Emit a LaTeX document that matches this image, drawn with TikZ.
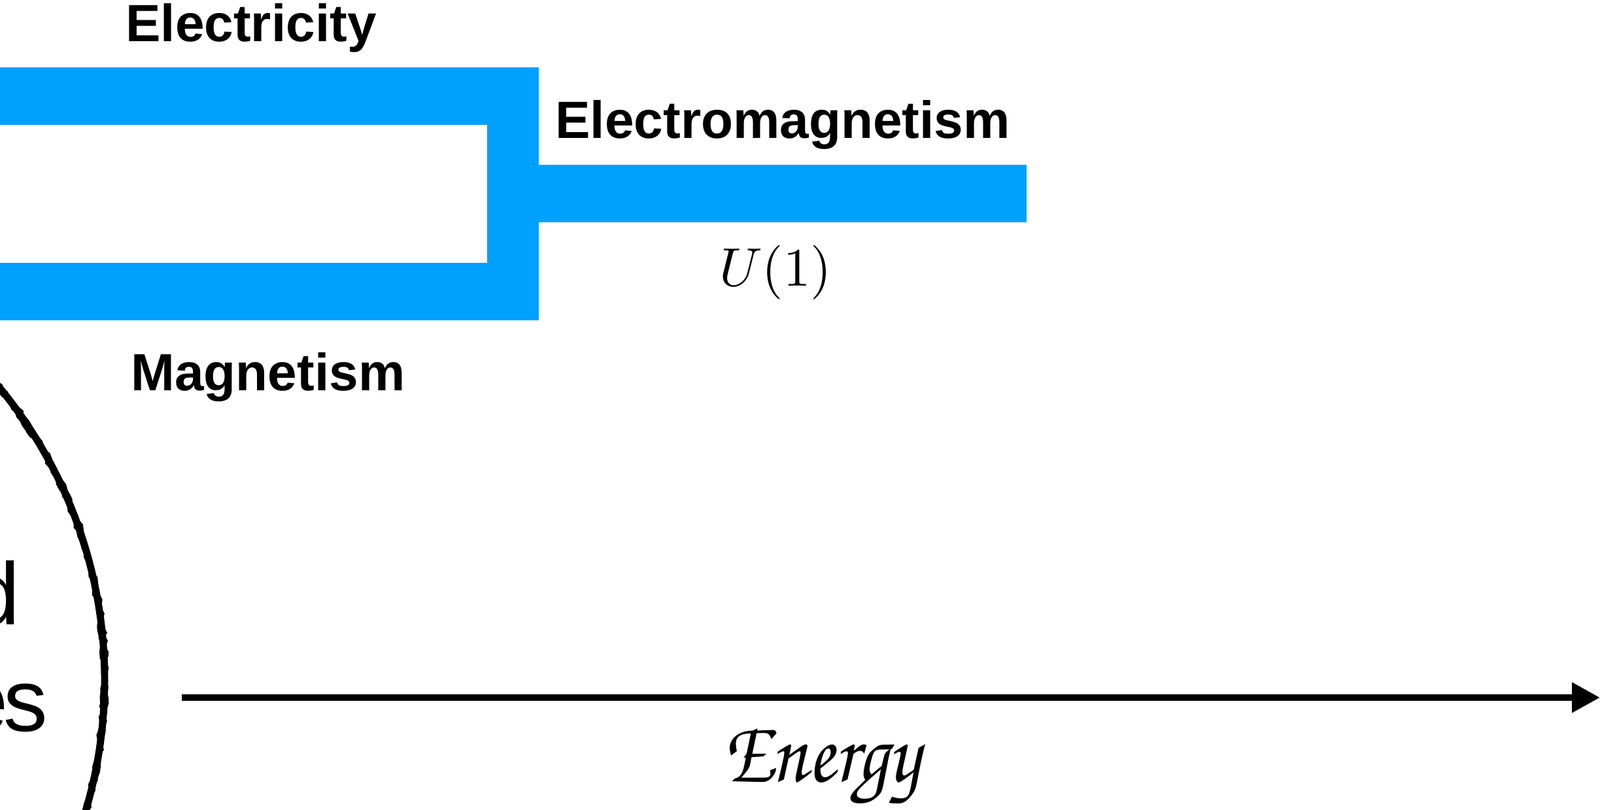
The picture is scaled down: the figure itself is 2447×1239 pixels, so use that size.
\documentclass[tikz,border=0pt]{standalone}
\usepackage{fontspec}
\usepackage{tikz}
\usetikzlibrary{arrows.meta, decorations.pathmorphing}
\setsansfont{Liberation Sans}
\newfontfamily\energyfont{TeX Gyre Chorus}
\definecolor{fieldblue}{RGB}{0,160,255}
\tikzset{
    bar/.style={fill=fieldblue, draw=none},
    force/.style={anchor=base, inner sep=0pt, font=\sffamily\bfseries\fontsize{22.8}{27}\selectfont},
    bigtext/.style={anchor=base east, inner sep=0pt, font=\sffamily\fontsize{38.4}{46}\selectfont},
    axis/.style={line width=2.85pt, -{Triangle[length=12.2pt, width=12.5pt]}},
    sketch/.style={line width=1.2pt, decorate, decoration={random steps, segment length=2pt, amplitude=0.7pt}}
}

\begin{document}
\begin{tikzpicture}[x=0.01cm, y=-0.01cm]
    \useasboundingbox (0,0) rectangle (2447,1239);

    % unified circle
    \draw[line width=3.1pt] (-542,1040) circle [radius=702];
    \draw[sketch] (-542,1040) circle [radius=705];
    \draw[sketch] (-542,1040) circle [radius=699];
    \node[bigtext] (textd) at (31,955) {d};
    \node[bigtext] (textes) at (74,1118) {e\kern-2pt s};

    % electricity and magnetism
    \fill[bar] (0,103) rectangle (823,191);
    \fill[bar] (0,402) rectangle (823,490);
    \fill[bar] (745,103) rectangle (824,490);
    \node[force] (elec) at (384,63) {Electricity};
    \node[force] (magn) at (410,597) {Magnetism};

    % electromagnetism
    \fill[bar] (824,252) rectangle (1570,340);
    \node[force] (emag) at (1197,211) {Electromagnetism};
    \node[anchor=base, inner sep=0pt, scale=2.36] (uone) at (1186,437) {$U(1)$};

    % energy axis
    \coordinate (axisstart) at (278,1067);
    \coordinate (axisend) at (2447,1067);
    \draw[axis] (axisstart) -- (axisend);
    \node[anchor=base, inner sep=0pt, xscale=0.88, font=\energyfont\fontsize{39}{46}\selectfont] (energy) at (1256,1195) {Energy};
\end{tikzpicture}
\end{document}
